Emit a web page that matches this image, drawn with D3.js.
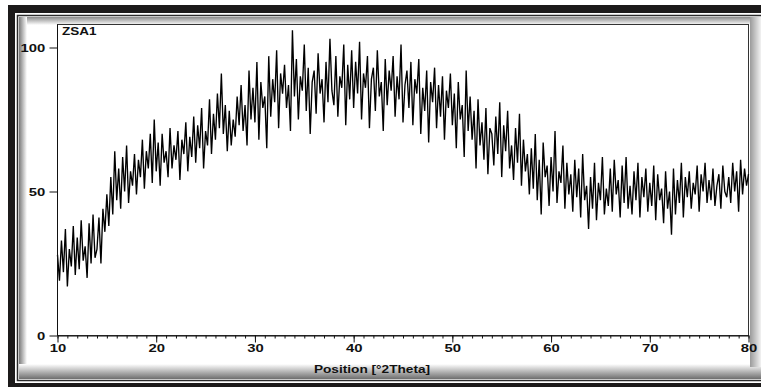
<!DOCTYPE html>
<html>
<head>
<meta charset="utf-8">
<script src="https://cdn.jsdelivr.net/npm/d3@7"></script>
<style>
  body { margin: 0; background: #fff; }
  svg { display: block; }
  text { font-family: "Liberation Sans", Arial, sans-serif; fill: #111; }
</style>
</head>
<body>
<svg id="chart" width="761" height="387"></svg>
<script>
// scan info
const sampleName = 'ZSA1';
const xTitle = 'Position [°2Theta]';
const xTicks = [10, 20, 30, 40, 50, 60, 70, 80];
const yTicks = [0, 50, 100];
const startAngle = 10;
const stepAngle = 0.2;

// counts, 0.2 deg apart
const counts = [
  28, 19, 33, 22, 37, 17, 30, 24, 38, 21,
  34, 23, 40, 26, 31, 20, 39, 25, 42, 27,
  30, 41, 25, 44, 36, 49, 38, 55, 42, 64,
  47, 58, 44, 62, 50, 66, 46, 57, 52, 63,
  49, 61, 55, 68, 51, 64, 58, 70, 53, 75,
  57, 67, 52, 70, 60, 64, 55, 72, 58, 66,
  61, 71, 54, 68, 63, 74, 57, 69, 62, 76,
  60, 73, 65, 79, 58, 71, 66, 82, 63, 77,
  68, 84, 72, 91, 70, 80, 64, 78, 66, 75,
  69, 83, 73, 87, 71, 80, 66, 92, 75, 86,
  74, 95, 68, 88, 79, 83, 65, 97, 76, 89,
  81, 99, 72, 91, 84, 94, 79, 87, 71, 106,
  83, 96, 75, 90, 85, 101, 78, 93, 70, 88,
  92, 77, 98, 84, 89, 74, 95, 81, 103, 85,
  80, 97, 76, 90, 86, 101, 73, 94, 82, 99,
  79, 95, 84, 102, 75, 91, 86, 97, 72, 89,
  93, 78, 99, 83, 88, 71, 96, 80, 92, 85,
  97, 76, 90, 82, 101, 74, 87, 92, 79, 95,
  73, 89, 84, 96, 70, 86, 78, 92, 67, 88,
  81, 93, 72, 87, 76, 90, 68, 85, 79, 91,
  73, 84, 65, 88, 75, 80, 62, 92, 71, 83,
  68, 78, 58, 82, 66, 74, 61, 79, 56, 72,
  70, 59, 76, 63, 81, 55, 73, 64, 78, 58,
  66, 54, 72, 60, 77, 52, 68, 57, 63, 49,
  65, 51, 70, 47, 61, 42, 67, 55, 59, 45,
  62, 50, 71, 46, 57, 53, 66, 44, 60, 49,
  56, 43, 61, 48, 58, 41, 63, 47, 52, 37,
  55, 44, 60, 40, 53, 47, 62, 42, 51, 45,
  58, 43, 61, 49, 54, 41, 59, 46, 62, 44,
  52, 42, 57, 47, 60, 41, 55, 48, 58, 43,
  53, 45, 59, 40, 56, 47, 51, 39, 57, 44,
  50, 35, 58, 42, 54, 46, 60, 41, 55, 48,
  57, 44, 53, 49, 59, 43, 56, 50, 60, 46,
  54, 47, 58, 45, 52, 56, 44, 59, 50, 48,
  55, 46, 60, 50, 57, 43, 61, 49, 58, 52,
  56
];

const svg = d3.select('#chart');
const W = 761, H = 387;
const plot = { left: 57.5, right: 748.5, top: 24.5, bottom: 335.5 };
const sx = 1.35; // the picture is stretched sideways

// gradients for the bevel
const defs = svg.append('defs');
function grad(id, x1, y1, x2, y2, c1, c2) {
  const g = defs.append('linearGradient').attr('id', id)
    .attr('x1', x1).attr('y1', y1).attr('x2', x2).attr('y2', y2);
  g.append('stop').attr('offset', 0).attr('stop-color', c1);
  g.append('stop').attr('offset', 1).attr('stop-color', c2);
}
grad('gTop', 0, 0, 0, 1, '#8a8a8a', '#ffffff');
grad('gLeft', 0, 0, 1, 0, '#7a7a7a', '#ffffff');
grad('gBottom', 0, 0, 0, 1, '#ffffff', '#6e6e6e');
grad('gRight', 0, 0, 1, 0, '#9a9a9a', '#f2f2f2');

// outer black frame
svg.append('rect').attr('x', 8).attr('y', 5).attr('width', W).attr('height', H)
  .attr('fill', '#1c1a1a');
svg.append('rect').attr('x', 15).attr('y', 13).attr('width', W).attr('height', 370)
  .attr('fill', '#fff');
svg.append('rect').attr('x', 17.5).attr('y', 15.5).attr('width', W).attr('height', 365)
  .attr('fill', '#fff').attr('stroke', '#2a2a2a').attr('stroke-width', 1.5);

// bevel shading
svg.append('rect').attr('x', 19).attr('y', 17).attr('width', W - 19).attr('height', 8)
  .attr('fill', 'url(#gTop)');
svg.append('rect').attr('x', 19).attr('y', 17).attr('width', 8).attr('height', 362)
  .attr('fill', 'url(#gLeft)');
svg.append('rect').attr('x', 19).attr('y', 364).attr('width', W - 19).attr('height', 15)
  .attr('fill', 'url(#gBottom)');
svg.append('rect').attr('x', 750).attr('y', 17).attr('width', 11).attr('height', 350)
  .attr('fill', 'url(#gRight)');

// plot box
svg.append('rect').attr('x', plot.left).attr('y', plot.top)
  .attr('width', plot.right - plot.left).attr('height', plot.bottom - plot.top)
  .attr('fill', '#fff').attr('stroke', '#333').attr('stroke-width', 1);

const x = d3.scaleLinear().domain([10, 80]).range([plot.left, plot.right]);
const y = d3.scaleLinear().domain([0, 100]).range([plot.bottom, 47.5]);

// trace
const line = d3.line()
  .x((d, i) => x(startAngle + i * stepAngle))
  .y(d => y(d));
svg.append('path').datum(counts)
  .attr('d', line)
  .attr('fill', 'none')
  .attr('stroke', '#000')
  .attr('stroke-width', 1.35)
  .attr('stroke-linejoin', 'miter');

// axes
const minor = svg.append('g').attr('transform', `translate(0,${plot.bottom})`)
  .call(d3.axisBottom(x).tickValues(d3.range(10, 81, 1)).tickSize(3).tickFormat(''));
minor.select('.domain').remove();
minor.selectAll('line').attr('stroke', '#111');

const xAxis = svg.append('g').attr('transform', `translate(0,${plot.bottom})`)
  .call(d3.axisBottom(x).tickValues(xTicks).tickSize(7).tickPadding(2).tickSizeOuter(0));
xAxis.select('.domain').attr('stroke', '#111');
xAxis.selectAll('line').attr('stroke', '#111');
xAxis.selectAll('text')
  .attr('font-size', 11).attr('font-weight', 'bold').attr('fill', '#111')
  .attr('transform', `scale(${sx},1)`);

const yAxis = svg.append('g').attr('transform', `translate(${plot.left},0)`)
  .call(d3.axisLeft(y).tickValues(yTicks).tickSize(8).tickPadding(1).tickSizeOuter(0));
yAxis.select('.domain').remove();
yAxis.selectAll('line').attr('stroke', '#111');
yAxis.selectAll('text')
  .attr('font-size', 11).attr('font-weight', 'bold').attr('fill', '#111')
  .attr('transform', `scale(${sx},1)`);

svg.append('line').attr('x1', plot.left).attr('x2', plot.left)
  .attr('y1', plot.top).attr('y2', plot.bottom).attr('stroke', '#111');

// labels
svg.append('text').attr('transform', `translate(62,35) scale(${sx},1)`)
  .attr('font-size', 10).attr('font-weight', 'bold').text(sampleName);

svg.append('text').attr('transform', `translate(372,373) scale(${sx * 0.92},1)`)
  .attr('text-anchor', 'middle').attr('font-size', 11).attr('font-weight', 'bold')
  .text(xTitle);
</script>
</body>
</html>
